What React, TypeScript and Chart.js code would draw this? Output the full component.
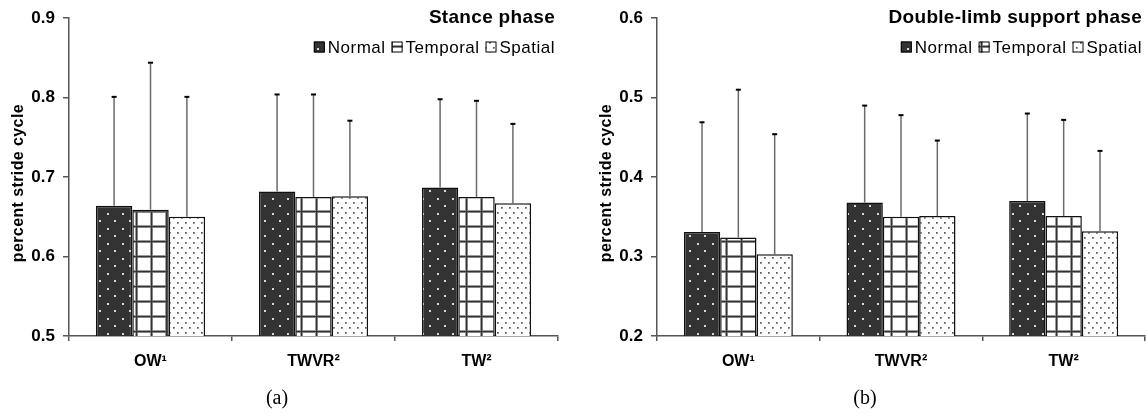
import { useEffect, useRef } from 'react';
import { Chart, registerables } from 'chart.js';

Chart.register(...registerables);

// Walking conditions and feedback groups
const categories = ['OW¹', 'TWVR²', 'TW²'];
const seriesNames = ['Normal', 'Temporal', 'Spatial'];

// Stance phase (fraction of stride cycle): group means and upper SD
const stanceNormal = [0.664, 0.682, 0.687];
const stanceTemporal = [0.659, 0.675, 0.675];
const stanceSpatial = [0.65, 0.676, 0.667];
const stanceNormalSd = [0.137, 0.122, 0.111];
const stanceTemporalSd = [0.185, 0.129, 0.121];
const stanceSpatialSd = [0.151, 0.095, 0.1];

// Double-limb support phase (fraction of stride cycle): group means and upper SD
const doubleNormal = [0.331, 0.368, 0.37];
const doubleTemporal = [0.324, 0.35, 0.351];
const doubleSpatial = [0.303, 0.351, 0.332];
const doubleNormalSd = [0.138, 0.122, 0.11];
const doubleTemporalSd = [0.186, 0.128, 0.121];
const doubleSpatialSd = [0.151, 0.095, 0.101];

const stanceTicks = [0.5, 0.6, 0.7, 0.8, 0.9];
const doubleTicks = [0.2, 0.3, 0.4, 0.5, 0.6];

const FONT = '"Liberation Sans", Arial, sans-serif';

function makePattern(kind: string): CanvasPattern | string {
  const c = document.createElement('canvas');
  const g = c.getContext('2d');
  if (!g) return '#fff';
  if (kind === 'Normal') {
    c.width = 15;
    c.height = 15;
    g.fillStyle = '#333333';
    g.fillRect(0, 0, 15, 15);
    g.fillStyle = '#d8d8d8';
    g.fillRect(2, 3, 2, 2);
    g.fillRect(9, 10, 2, 2);
  } else if (kind === 'Temporal') {
    c.width = 15;
    c.height = 15;
    g.fillStyle = '#ffffff';
    g.fillRect(0, 0, 15, 15);
    g.fillStyle = '#9a9a9a';
    g.fillRect(0, 0, 15, 3);
    g.fillRect(0, 0, 3, 15);
    g.fillStyle = '#333333';
    g.fillRect(0, 1, 15, 1.2);
    g.fillRect(1, 0, 1.2, 15);
  } else {
    c.width = 8;
    c.height = 10;
    g.fillStyle = '#ffffff';
    g.fillRect(0, 0, 8, 10);
    g.fillStyle = '#555555';
    g.fillRect(1, 2, 1.7, 1.7);
    g.fillRect(5, 7, 1.7, 1.7);
  }
  return g.createPattern(c, 'repeat') || '#fff';
}

const decorPlugin = {
  id: 'decor',
  afterDatasetsDraw(chart: any, _args: any, opts: any) {
    const ctx = chart.ctx;
    const yScale = chart.scales.y;
    ctx.save();
    chart.data.datasets.forEach((ds: any, i: number) => {
      const meta = chart.getDatasetMeta(i);
      const errs = opts.errors[i];
      meta.data.forEach((bar: any, j: number) => {
        const top = yScale.getPixelForValue(ds.data[j] + errs[j]);
        ctx.strokeStyle = '#6a6a6a';
        ctx.lineWidth = 1.5;
        ctx.beginPath();
        ctx.moveTo(bar.x, bar.y);
        ctx.lineTo(bar.x, top);
        ctx.stroke();
        ctx.strokeStyle = '#000';
        ctx.lineWidth = 2;
        ctx.beginPath();
        ctx.moveTo(bar.x - 2.5, top);
        ctx.lineTo(bar.x + 2.5, top);
        ctx.stroke();
      });
    });
    ctx.restore();
  },
  afterDraw(chart: any, _args: any, opts: any) {
    const ctx = chart.ctx;
    const area = chart.chartArea;
    ctx.save();
    // panel title
    ctx.fillStyle = '#000';
    ctx.font = `bold 19px ${FONT}`;
    ctx.letterSpacing = '0.3px';
    ctx.textAlign = 'right';
    ctx.textBaseline = 'middle';
    const right = area.right - opts.rightInset;
    ctx.fillText(opts.title, right, 18);

    // legend, right aligned
    ctx.font = `17px ${FONT}`;
    ctx.letterSpacing = '0.5px';
    const box = 11;
    const gapBox = 3;
    const gapItem = 6;
    const items = chart.data.datasets.map((ds: any) => ({
      text: ds.label,
      fill: ds.backgroundColor,
      w: ctx.measureText(ds.label).width,
    }));
    let total = 0;
    items.forEach((it: any, k: number) => {
      total += box + gapBox + it.w + (k < items.length - 1 ? gapItem : 0);
    });
    let x = right - total;
    const ly = 47;
    ctx.textAlign = 'left';
    items.forEach((it: any) => {
      ctx.fillStyle = it.fill;
      ctx.fillRect(x, ly - box / 2, box, box);
      ctx.strokeStyle = '#000';
      ctx.lineWidth = 1;
      ctx.strokeRect(x + 0.5, ly - box / 2 + 0.5, box - 1, box - 1);
      ctx.fillStyle = '#000';
      ctx.fillText(it.text, x + box + gapBox, ly + 1);
      x += box + gapBox + it.w + gapItem;
    });

    // y-axis title
    ctx.save();
    ctx.translate(area.left - 50, (area.top + area.bottom) / 2 + 6);
    ctx.rotate(-Math.PI / 2);
    ctx.font = `bold 16px ${FONT}`;
    ctx.letterSpacing = '0.4px';
    ctx.textAlign = 'center';
    ctx.textBaseline = 'middle';
    ctx.fillStyle = '#000';
    ctx.fillText(opts.yTitle, 0, 0);
    ctx.restore();

    // panel letter
    ctx.letterSpacing = '0px';
    ctx.font = `20px "Liberation Serif", "Times New Roman", serif`;
    ctx.textAlign = 'center';
    ctx.textBaseline = 'middle';
    ctx.fillStyle = '#000';
    ctx.fillText(opts.letter, opts.letterX, 399);
    ctx.restore();
  },
};

type PanelProps = {
  left: number;
  width: number;
  axisWidth: number;
  padRight: number;
  title: string;
  letter: string;
  letterX: number;
  ticks: number[];
  values: number[][];
  errors: number[][];
};

function Panel(p: PanelProps) {
  const ref = useRef<HTMLCanvasElement>(null);
  useEffect(() => {
    const canvas = ref.current;
    if (!canvas) return;
    const datasets = seriesNames.map((name, i) => ({
      label: name,
      data: p.values[i],
      backgroundColor: makePattern(name),
      borderColor: '#111',
      borderWidth: 1.5,
      categoryPercentage: 0.67,
      barPercentage: 1,
    }));
    const chart = new Chart(canvas, {
      type: 'bar',
      data: { labels: categories, datasets },
      plugins: [decorPlugin],
      options: {
        responsive: false,
        animation: false,
        devicePixelRatio: 1,
        layout: { padding: { top: 16, right: p.padRight, bottom: 0, left: 0 } },
        plugins: {
          legend: { display: false },
          tooltip: { enabled: false },
          decor: {
            errors: p.errors,
            title: p.title,
            letter: p.letter,
            letterX: p.letterX,
            yTitle: 'percent stride cycle',
            rightInset: 3,
          },
        } as any,
        scales: {
          x: {
            grid: {
              offset: true,
              drawOnChartArea: false,
              drawTicks: true,
              tickLength: 5,
              color: '#555',
              lineWidth: 1.5,
            },
            border: { color: '#555', width: 1.5 },
            ticks: {
              color: '#000',
              font: { family: FONT, size: 16, weight: 'bold' },
              padding: 11,
            },
            afterFit: (s: any) => {
              s.height = 81;
            },
          },
          y: {
            min: p.ticks[0],
            max: p.ticks[p.ticks.length - 1],
            afterBuildTicks: (s: any) => {
              s.ticks = p.ticks.map((v) => ({ value: v }));
            },
            grid: {
              drawOnChartArea: false,
              drawTicks: true,
              tickLength: 6,
              color: '#555',
              lineWidth: 1.5,
            },
            border: { color: '#555', width: 1.5 },
            ticks: {
              color: '#000',
              font: { family: FONT, size: 17, weight: 'bold' },
              padding: 8,
              callback: (v: any) => Number(v).toFixed(1),
            },
            afterFit: (s: any) => {
              s.width = p.axisWidth;
            },
          },
        },
      },
    });
    return () => chart.destroy();
  }, []);
  return (
    <div style={{ position: 'absolute', left: p.left, top: 0, width: p.width, height: 417 }}>
      <canvas ref={ref} width={p.width} height={417} style={{ display: 'block' }} />
    </div>
  );
}

export default function App() {
  return (
    <div
      style={{
        position: 'fixed',
        left: 0,
        top: 0,
        width: 1146,
        height: 417,
        background: '#fff',
        overflow: 'hidden',
      }}
    >
      <Panel
        left={0}
        width={570}
        axisWidth={69}
        padRight={12}
        title="Stance phase"
        letter="(a)"
        letterX={277}
        ticks={stanceTicks}
        values={[stanceNormal, stanceTemporal, stanceSpatial]}
        errors={[stanceNormalSd, stanceTemporalSd, stanceSpatialSd]}
      />
      <Panel
        left={575}
        width={571}
        axisWidth={82}
        padRight={1}
        title="Double-limb support phase"
        letter="(b)"
        letterX={290}
        ticks={doubleTicks}
        values={[doubleNormal, doubleTemporal, doubleSpatial]}
        errors={[doubleNormalSd, doubleTemporalSd, doubleSpatialSd]}
      />
    </div>
  );
}
